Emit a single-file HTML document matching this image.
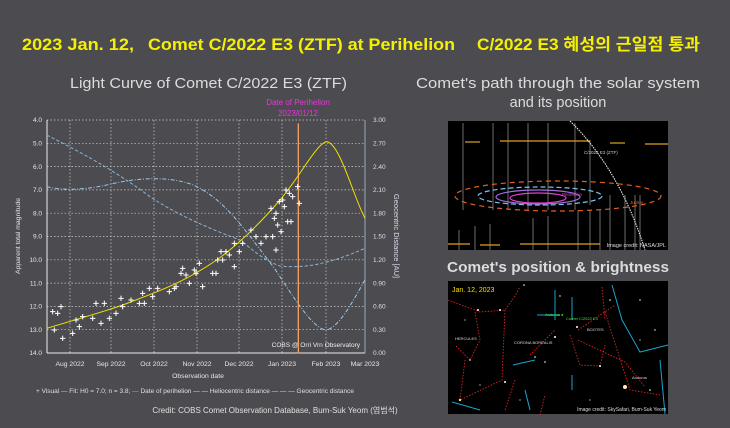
<!DOCTYPE html>
<html><head><meta charset="utf-8"><style>
html,body{margin:0;padding:0;background:#4b4b50;}
svg{display:block;font-family:"Liberation Sans","Noto Sans CJK KR",sans-serif;}
</style></head><body>
<svg width="730" height="428" viewBox="0 0 730 428" xmlns="http://www.w3.org/2000/svg">
<rect width="730" height="428" fill="#4b4b50"/>
<g font-size="16.5" font-weight="bold" fill="#f5f000">
<text x="22" y="50" textLength="112" lengthAdjust="spacingAndGlyphs">2023 Jan. 12,</text>
<text x="148" y="50" textLength="307" lengthAdjust="spacingAndGlyphs">Comet C/2022 E3 (ZTF) at Perihelion</text>
<text x="477" y="50" textLength="223" lengthAdjust="spacingAndGlyphs">C/2022 E3 혜성의 근일점 통과</text>
</g>
<text x="70" y="88" font-size="14.5" fill="#dcdcdc" textLength="277" lengthAdjust="spacingAndGlyphs">Light Curve of Comet C/2022 E3 (ZTF)</text>
<text x="416" y="88" font-size="14.5" fill="#dcdcdc" textLength="284" lengthAdjust="spacingAndGlyphs">Comet's path through the solar system</text>
<text x="558" y="107" text-anchor="middle" font-size="14.5" fill="#dcdcdc">and its position</text>
<text x="298" y="105" text-anchor="middle" font-size="8" fill="#ee33dd">Date of Perihelion</text>
<text x="298" y="116" text-anchor="middle" font-size="8" fill="#ee33dd">2023/01/12</text>

<g stroke="#cfcfcf" stroke-width="0.7" stroke-dasharray="1.5,2" fill="none">
<line x1="47" y1="120" x2="365" y2="120"/><line x1="47" y1="143.3" x2="365" y2="143.3"/><line x1="47" y1="166.6" x2="365" y2="166.6"/><line x1="47" y1="189.9" x2="365" y2="189.9"/><line x1="47" y1="213.2" x2="365" y2="213.2"/><line x1="47" y1="236.5" x2="365" y2="236.5"/><line x1="47" y1="259.8" x2="365" y2="259.8"/><line x1="47" y1="283.1" x2="365" y2="283.1"/><line x1="47" y1="306.4" x2="365" y2="306.4"/><line x1="47" y1="329.7" x2="365" y2="329.7"/>
<line x1="70" y1="120" x2="70" y2="353"/><line x1="111" y1="120" x2="111" y2="353"/><line x1="154" y1="120" x2="154" y2="353"/><line x1="197" y1="120" x2="197" y2="353"/><line x1="239" y1="120" x2="239" y2="353"/><line x1="282" y1="120" x2="282" y2="353"/><line x1="326" y1="120" x2="326" y2="353"/><line x1="365" y1="120" x2="365" y2="353"/>
</g>
<g stroke="#eee" stroke-width="1" fill="none">
<line x1="47" y1="120" x2="47" y2="353"/><line x1="47" y1="353" x2="365" y2="353"/>
</g>
<line x1="365" y1="120" x2="365" y2="353" stroke="#9ab" stroke-width="1"/>
<g font-size="6.5" fill="#e8e8e8" text-anchor="end">
<text x="42" y="122">4.0</text><text x="42" y="145.5">5.0</text><text x="42" y="168.8">6.0</text><text x="42" y="192">7.0</text><text x="42" y="215.4">8.0</text><text x="42" y="238.7">9.0</text><text x="42" y="262">10.0</text><text x="42" y="285.3">11.0</text><text x="42" y="308.6">12.0</text><text x="42" y="332">13.0</text><text x="42" y="355.2">14.0</text>
</g>
<g font-size="6.5" fill="#dde" text-anchor="start">
<text x="373" y="122">3.00</text><text x="373" y="145.5">2.70</text><text x="373" y="168.8">2.40</text><text x="373" y="192">2.10</text><text x="373" y="215.4">1.80</text><text x="373" y="238.7">1.50</text><text x="373" y="262">1.20</text><text x="373" y="285.3">0.90</text><text x="373" y="308.6">0.60</text><text x="373" y="332">0.30</text><text x="373" y="355.2">0.00</text>
</g>
<g font-size="6.8" fill="#e8e8e8" text-anchor="middle">
<text x="70" y="366">Aug 2022</text><text x="111" y="366">Sep 2022</text><text x="154" y="366">Oct 2022</text><text x="197" y="366">Nov 2022</text><text x="239" y="366">Dec 2022</text><text x="282" y="366">Jan 2023</text><text x="326" y="366">Feb 2023</text><text x="365" y="366">Mar 2023</text>
<text x="198" y="378">Observation date</text>
</g>
<text transform="translate(20,236) rotate(-90)" font-size="6.8" fill="#e8e8e8" text-anchor="middle">Apparent total magnitude</text>
<text transform="translate(394,236) rotate(90)" font-size="7.5" fill="#dde" text-anchor="middle">Geocentric Distance [AU]</text>
<text x="195" y="393" text-anchor="middle" font-size="6.5" fill="#e0e0e0">+ Visual  <tspan fill="#f5e000">—</tspan> Fit: H0 = 7.0; n = 3.8;  <tspan fill="#f0a060">—</tspan> Date of perihelion  — — Heliocentric distance  — — — Geocentric distance</text>
<text x="275" y="413" text-anchor="middle" font-size="8" fill="#e0e0e0">Credit: COBS Comet Observation Database, Bum-Suk Yeom (염범석)</text>
<text x="360" y="347" text-anchor="end" font-size="6.5" fill="#f0f0f0">COBS @ Orri Vrn Observatory</text>

<g transform="translate(40,100) scale(0.33333)" fill="none">
<path d="M20,105 C150,170 250,230 330,290 C420,350 520,390 600,420 C650,460 680,485 720,498 C790,505 860,495 975,445" stroke="#8ab4d4" stroke-width="3" stroke-dasharray="10,6"/>
<path d="M20,260 C60,270 120,272 200,255 C280,235 380,225 460,255 C560,300 620,400 700,500 C760,590 820,690 860,690 C900,680 940,600 975,540" stroke="#9cc8e8" stroke-width="3" stroke-dasharray="12,5,3,5"/>
<line x1="775" y1="70" x2="775" y2="760" stroke="#f0a060" stroke-width="4"/>
<path d="M20,685 C120,655 230,625 300,595 C380,565 450,535 530,480 C600,430 660,370 720,300 C780,230 830,130 860,125 C900,130 940,290 975,355" stroke="#f2e200" stroke-width="3"/>
<g stroke="#fff" stroke-width="3">
<path d="M35,690h16M43,682v16 M60,715h16M68,707v16 M90,700h16M98,692v16 M100,660h16M108,652v16 M110,680h16M118,672v16 M45,640h16M53,632v16 M150,655h16M158,647v16 M160,610h16M168,602v16 M185,610h16M193,602v16 M175,670h16M183,662v16 M200,655h16M208,647v16 M220,640h16M228,632v16 M235,595h16M243,587v16 M290,610h16M298,602v16 M300,580h16M308,572v16 M320,565h16M328,557v16 M345,565h16M353,557v16 M380,575h16M388,567v16 M395,565h16M403,557v16 M420,505h16M428,497v16 M415,520h16M423,512v16 M440,550h16M448,542v16 M460,520h16M468,512v16 M470,490h16M478,482v16 M480,560h16M488,552v16 M520,520h16M528,512v16 M525,480h16M533,472v16 M535,455h16M543,447v16 M550,455h16M558,447v16 M575,500h16M583,492v16 M575,430h16M583,422v16 M600,430h16M608,422v16 M625,390h16M633,382v16 M655,430h16M663,422v16 M670,410h16M678,402v16 M690,410h16M698,402v16 M700,450h16M708,442v16 M685,325h16M693,317v16 M700,340h16M708,332v16 M710,305h16M718,297v16 M720,300h16M728,292v16 M730,270h16M738,262v16 M740,280h16M748,272v16 M765,260h16M773,252v16 M770,310h16M778,302v16 M705,375h16M713,367v16 M715,395h16M723,387v16 M735,365h16M743,357v16 M745,365h16M753,357v16 M55,620h16M63,612v16 M30,635h16M38,627v16 M120,650h16M128,642v16 M240,620h16M248,612v16 M265,600h16M273,592v16 M305,610h16M313,602v16 M330,590h16M338,582v16 M400,560h16M408,552v16 M430,525h16M438,517v16 M455,510h16M463,502v16 M510,520h16M518,512v16 M540,480h16M548,472v16 M560,465h16M568,457v16 M590,455h16M598,447v16 M640,410h16M648,402v16 M695,355h16M703,347v16 M725,320h16M733,312v16 M750,290h16M758,282v16"/>
</g>
</g>

<rect x="448" y="121" width="220" height="129" fill="#000"/>
<g stroke="#888" stroke-width="0.8">
<line x1="463" y1="123" x2="463" y2="210"/><line x1="493" y1="123" x2="493" y2="210"/><line x1="508" y1="123" x2="508" y2="210"/><line x1="528" y1="123" x2="528" y2="210"/><line x1="548" y1="123" x2="548" y2="210"/><line x1="575" y1="123" x2="575" y2="210"/><line x1="590" y1="140" x2="590" y2="205"/>
<line x1="459" y1="230" x2="459" y2="250"/><line x1="475" y1="226" x2="475" y2="250"/><line x1="490" y1="224" x2="490" y2="250"/><line x1="533" y1="218" x2="533" y2="250"/><line x1="548" y1="216" x2="548" y2="250"/><line x1="578" y1="210" x2="578" y2="250"/><line x1="590" y1="210" x2="590" y2="250"/><line x1="600" y1="210" x2="600" y2="250"/><line x1="610" y1="195" x2="610" y2="250"/><line x1="625" y1="195" x2="625" y2="250"/><line x1="635" y1="195" x2="635" y2="250"/><line x1="640" y1="195" x2="640" y2="250"/>
</g>
<g stroke="#e0a020" stroke-width="1.2">
<line x1="465" y1="142" x2="480" y2="142"/><line x1="500" y1="141" x2="590" y2="141"/><line x1="610" y1="143" x2="625" y2="143"/><line x1="645" y1="144" x2="668" y2="144"/>
<line x1="448" y1="244" x2="470" y2="244"/><line x1="480" y1="245" x2="500" y2="245"/><line x1="520" y1="244" x2="600" y2="244"/>
</g>
<ellipse cx="558" cy="196" rx="103" ry="15" fill="none" stroke="#e06020" stroke-width="1.2" stroke-dasharray="5,4"/>
<ellipse cx="540" cy="196" rx="62" ry="9" fill="none" stroke="#7cc4f0" stroke-width="1.2" stroke-dasharray="5,3"/>
<ellipse cx="538" cy="197" rx="42" ry="7" fill="none" stroke="#a070e0" stroke-width="1.2"/>
<ellipse cx="538" cy="198" rx="28" ry="5" fill="none" stroke="#e040d0" stroke-width="1.2"/>
<path d="M570,121 Q620,170 645,250" fill="none" stroke="#fff" stroke-width="1" stroke-dasharray="1.5,1"/>
<text x="584" y="154" font-size="4.5" fill="#ccc">C/2022 E3 (ZTF)</text>
<text x="630" y="204" font-size="4.5" fill="#e06020">Jupiter</text>
<text x="562" y="196" font-size="4.5" fill="#e040d0">Perihelion</text>
<text x="666" y="247" text-anchor="end" font-size="5.5" fill="#ddd">Image credit: NASA/JPL</text>

<text x="447" y="272" font-size="14.5" font-weight="bold" fill="#dcdcdc" textLength="222" lengthAdjust="spacingAndGlyphs">Comet's position &amp; brightness</text>

<rect x="448" y="281" width="220" height="133" fill="#000"/>
<g fill="none" stroke="#dd2222" stroke-width="0.9" stroke-dasharray="1.5,1.5">
<path d="M448,300 L480,312 L505,310 L515,296 L520,287"/><path d="M505,310 L502,380 L460,400"/><path d="M475,312 L480,340 L470,360 L455,345"/><path d="M465,360 L460,400"/><path d="M530,355 L555,330"/><path d="M570,335 L580,365 L600,366 L605,345"/><path d="M578,330 L615,305"/><path d="M578,340 L625,362 L645,387"/><path d="M605,312 L630,390 L660,395"/><path d="M602,287 L605,320"/><path d="M515,380 L505,410"/><path d="M540,415 L545,395"/>
</g>
<g fill="none" stroke="#1ea0d0" stroke-width="1">
<path d="M612,285 L622,320 L640,352 L668,345"/><path d="M660,360 L665,414"/><path d="M555,290 L555,320"/><path d="M572,297 L572,320"/><path d="M513,365 L535,360"/><path d="M525,390 L530,410"/><path d="M452,402 L480,410"/><path d="M572,375 L572,390"/><path d="M537,315 L560,315"/>
</g>
<text x="452" y="292" font-size="7" fill="#f5e000">Jan. 12, 2023</text>
<text x="545" y="316" font-size="4" fill="#33ee33">Arcturus ●</text>
<text x="566" y="320" font-size="4" fill="#33ee33">Comet C/2022 E3</text>
<text x="587" y="331" font-size="4" fill="#ddd">BOOTES</text>
<text x="514" y="344" font-size="4" fill="#ddd">CORONA BOREALIS</text>
<text x="455" y="340" font-size="4" fill="#ddd">HERCULES</text>
<text x="632" y="379" font-size="4" fill="#ddd">Arcturus</text>
<text x="666" y="411" text-anchor="end" font-size="5" fill="#ddd">Image credit: SkySafari, Bum-Suk Yeom</text>
<g fill="#fff">
<circle cx="625" cy="387" r="2" fill="#ffeebb"/><circle cx="500" cy="310" r="1"/><circle cx="505" cy="382" r="1"/><circle cx="460" cy="400" r="1.2" fill="#ee5"/><circle cx="600" cy="366" r="1"/><circle cx="577" cy="327" r="1"/><circle cx="555" cy="337" r="1"/><circle cx="478" cy="310" r="1"/><circle cx="524" cy="285" r="0.8"/><circle cx="560" cy="296" r="0.7"/><circle cx="640" cy="300" r="0.7"/><circle cx="655" cy="330" r="0.7"/><circle cx="470" cy="360" r="0.8"/><circle cx="535" cy="357" r="0.8"/><circle cx="545" cy="362" r="0.8"/><circle cx="650" cy="390" r="0.8"/><circle cx="590" cy="400" r="0.6"/><circle cx="480" cy="385" r="0.6"/><circle cx="610" cy="300" r="0.8"/><circle cx="640" cy="340" r="0.6"/><circle cx="520" cy="400" r="0.6"/><circle cx="465" cy="320" r="0.6"/>
</g>
</svg>
</body></html>
